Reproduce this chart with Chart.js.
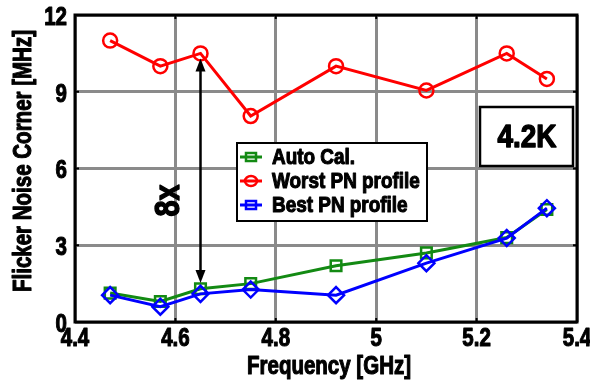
<!DOCTYPE html>
<html>
<head>
<meta charset="utf-8">
<script src="https://cdn.jsdelivr.net/npm/chart.js@4.4.1/dist/chart.umd.min.js"></script>
<style>
  html, body { margin: 0; padding: 0; background: #fff; }
  #wrap { width: 590px; height: 385px; }
</style>
</head>
<body>
<div id="wrap"><canvas id="chart"></canvas></div>
<script>
const FONT = "'Liberation Sans', Arial, sans-serif";
const NARROW = 0.82; // squeeze to look like Arial Narrow

const freqs = [4.47, 4.57, 4.65, 4.75, 4.92, 5.10, 5.26, 5.34];
const autoCal = [1.13, 0.8, 1.3, 1.5, 2.2, 2.7, 3.3, 4.4];
const worstPN = [11.0, 10.0, 10.5, 8.05, 10.0, 9.05, 10.5, 9.5];
const bestPN = [1.05, 0.6, 1.1, 1.27, 1.05, 2.3, 3.28, 4.45];
const xTicks = [4.4, 4.6, 4.8, 5.0, 5.2, 5.4];
const yTicks = [0, 3, 6, 9, 12];

function toPoints(ys) {
    return freqs.map((f, i) => ({ x: f, y: ys[i] }));
}

function narrowText(ctx, text, x, y, size, align, sx) {
    ctx.save();
    ctx.translate(x, y);
    ctx.scale(sx || NARROW, 1);
    ctx.font = "bold " + size + "px " + FONT;
    ctx.textAlign = align || "center";
    ctx.textBaseline = "middle";
    ctx.fillStyle = "#000";
    ctx.strokeStyle = "#000";
    ctx.lineWidth = size > 28 ? 1.4 : 1.1; // heavier stems
    ctx.lineJoin = "round";
    ctx.fillText(text, 0, 0);
    ctx.strokeText(text, 0, 0);
    ctx.restore();
}

// tick labels + axis titles in a condensed bold face
const axisText = {
    id: "axisText",
    afterDraw(chart) {
        const ctx = chart.ctx;
        const xs = chart.scales.x, ys = chart.scales.y;
        const a = chart.chartArea;
        xs.ticks.forEach((t) => {
            const lbl = String(Math.round(t.value * 10) / 10);
            narrowText(ctx, lbl, xs.getPixelForValue(t.value), a.bottom + 17, 25);
        });
        ys.ticks.forEach((t) => {
            narrowText(ctx, String(t.value), a.left - 8, ys.getPixelForValue(t.value) + 3, 25, "right");
        });
        narrowText(ctx, "Frequency [GHz]", (a.left + a.right) / 2 + 3, 367, 25);
        ctx.save();
        ctx.translate(24, 161);
        ctx.rotate(-Math.PI / 2);
        narrowText(ctx, "Flicker Noise Corner [MHz]", 0, 0, 25);
        ctx.restore();
    },
};

// legend box with line + marker, drawn inside the plot
const legendBox = {
    id: "legendBox",
    afterDraw(chart) {
        const ctx = chart.ctx;
        const x0 = 237, y0 = 143, w = 190, h = 78;
        ctx.save();
        ctx.fillStyle = "#fff";
        ctx.fillRect(x0, y0, w, h);
        ctx.lineWidth = 2;
        ctx.strokeStyle = "#000";
        ctx.strokeRect(x0, y0, w, h);
        chart.data.datasets.forEach((ds, i) => {
            const cy = y0 + 14 + i * 24;
            const cx = x0 + 14;
            ctx.strokeStyle = ds.borderColor;
            ctx.lineWidth = 2.5;
            ctx.beginPath();
            if (ds.pointStyle === "circle") {
                ctx.ellipse(cx, cy, 6, 5, 0, 0, Math.PI * 2);
            } else {
                ctx.rect(cx - 5, cy - 4, 10, 8);
            }
            ctx.fillStyle = "#fff";
            ctx.fill();
            ctx.stroke();
            ctx.lineWidth = 3;
            ctx.beginPath();
            ctx.moveTo(cx - 11, cy);
            ctx.lineTo(cx + 11, cy);
            ctx.stroke();
            narrowText(ctx, ds.label, x0 + 35, cy + 1, 22, "left", 0.86);
        });
        ctx.restore();
    },
};

// 8x arrow and 4.2K tag
const notes = {
    id: "notes",
    afterDatasetsDraw(chart) {
        const ctx = chart.ctx;
        const xs = chart.scales.x, ys = chart.scales.y;
        const ax = xs.getPixelForValue(4.65);
        const top = ys.getPixelForValue(10.3);
        const bot = ys.getPixelForValue(1.52);
        ctx.save();
        ctx.strokeStyle = "#000";
        ctx.fillStyle = "#000";
        ctx.lineWidth = 2.5;
        ctx.beginPath();
        ctx.moveTo(ax, top + 10);
        ctx.lineTo(ax, bot - 10);
        ctx.stroke();
        ctx.beginPath();
        ctx.moveTo(ax, top);
        ctx.lineTo(ax - 5, top + 13);
        ctx.lineTo(ax + 5, top + 13);
        ctx.closePath();
        ctx.fill();
        ctx.beginPath();
        ctx.moveTo(ax, bot);
        ctx.lineTo(ax - 5, bot - 13);
        ctx.lineTo(ax + 5, bot - 13);
        ctx.closePath();
        ctx.fill();

        ctx.translate(ax - 31, ys.getPixelForValue(4.75));
        ctx.rotate(-Math.PI / 2);
        narrowText(ctx, "8x", 0, 0, 35);
        ctx.restore();

        ctx.save();
        ctx.fillStyle = "#fff";
        ctx.fillRect(480, 107, 93, 59);
        ctx.lineWidth = 2.5;
        ctx.strokeStyle = "#000";
        ctx.strokeRect(480, 107, 93, 59);
        narrowText(ctx, "4.2K", 527, 138, 31, "center", 0.9);
        ctx.restore();
    },
};

// heavy black frame with small inward ticks
const frame = {
    id: "frame",
    afterDraw(chart) {
        const a = chart.chartArea;
        const ctx = chart.ctx;
        const xs = chart.scales.x, ys = chart.scales.y;
        ctx.save();
        ctx.strokeStyle = "#000";
        ctx.lineWidth = 2;
        ctx.beginPath();
        xs.ticks.forEach((t) => {
            const px = xs.getPixelForValue(t.value);
            ctx.moveTo(px, a.top); ctx.lineTo(px, a.top + 4);
            ctx.moveTo(px, a.bottom); ctx.lineTo(px, a.bottom - 4);
        });
        ys.ticks.forEach((t) => {
            const py = ys.getPixelForValue(t.value);
            ctx.moveTo(a.left, py); ctx.lineTo(a.left + 4, py);
            ctx.moveTo(a.right, py); ctx.lineTo(a.right - 4, py);
        });
        ctx.stroke();
        ctx.lineWidth = 3;
        ctx.strokeRect(a.left, a.top, a.right - a.left, a.bottom - a.top);
        ctx.restore();
    },
};

new Chart(document.getElementById("chart"), {
    type: "scatter",
    data: {
        datasets: [
            {
                label: "Auto Cal.",
                data: toPoints(autoCal),
                borderColor: "#138a13",
                backgroundColor: "rgba(255,255,255,0)",
                pointStyle: "rect",
                pointRadius: 7.5,
                pointBorderWidth: 2.5,
                borderWidth: 3,
                showLine: true,
                order: 3,
            },
            {
                label: "Worst PN profile",
                data: toPoints(worstPN),
                borderColor: "#ff0000",
                backgroundColor: "rgba(255,255,255,0)",
                pointStyle: "circle",
                pointRadius: 7,
                pointBorderWidth: 2.5,
                borderWidth: 3,
                showLine: true,
                order: 2,
            },
            {
                label: "Best PN profile",
                data: toPoints(bestPN),
                borderColor: "#0000ff",
                backgroundColor: "rgba(255,255,255,0)",
                pointStyle: "rectRot",
                pointRadius: 8,
                pointBorderWidth: 2.5,
                borderWidth: 3,
                showLine: true,
                order: 1,
            },
        ],
    },
    options: {
        responsive: true,
        maintainAspectRatio: false,
        animation: false,
        layout: { padding: { top: 15, right: 13, left: 0, bottom: 0 } },
        plugins: {
            legend: { display: false },
            tooltip: { enabled: false },
        },
        scales: {
            x: {
                type: "linear",
                min: 4.4,
                max: 5.4,
                afterBuildTicks: (s) => { s.ticks = xTicks.map((v) => ({ value: v })); },
                afterFit: (s) => { s.height = 63; },
                ticks: { display: false },
                grid: { color: "#8a8a8a", lineWidth: 3, drawTicks: false },
                border: { display: false },
            },
            y: {
                min: 0,
                max: 12,
                afterBuildTicks: (s) => { s.ticks = yTicks.map((v) => ({ value: v })); },
                afterFit: (s) => { s.width = 75; },
                ticks: { display: false },
                grid: { color: "#8a8a8a", lineWidth: 3, drawTicks: false },
                border: { display: false },
            },
        },
    },
    plugins: [frame, notes, legendBox, axisText],
});
</script>
</body>
</html>
